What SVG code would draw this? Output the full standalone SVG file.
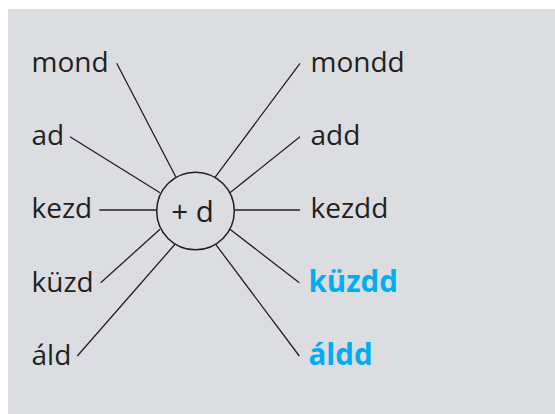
<svg xmlns="http://www.w3.org/2000/svg" width="555" height="414" viewBox="0 0 555 414">
<style>
.lbl{font-family:"Open Sans","Noto Sans","Liberation Sans",sans-serif;font-size:28px;fill:#231f20}
.hl{font-weight:bold;fill:#00aeef;font-size:29.5px}
.ln{stroke:#231f20;stroke-width:1.3;fill:none}
</style>
<rect x="8" y="9" width="547" height="405" fill="#dcdde0"/>
<g id="connectors">
<line class="ln" x1="116.7" y1="63.3" x2="176" y2="177.3"/>
<line class="ln" x1="70" y1="136.7" x2="160" y2="192.7"/>
<line class="ln" x1="99.3" y1="210" x2="156.7" y2="210"/>
<line class="ln" x1="100.7" y1="282.7" x2="160" y2="229.3"/>
<line class="ln" x1="77.3" y1="356" x2="175" y2="244.3"/>
<line class="ln" x1="300" y1="63.3" x2="215" y2="177.3"/>
<line class="ln" x1="300" y1="136.7" x2="230" y2="192.7"/>
<line class="ln" x1="234.3" y1="210" x2="300" y2="210"/>
<line class="ln" x1="299.3" y1="282.7" x2="230" y2="229.3"/>
<line class="ln" x1="299.3" y1="356" x2="215.7" y2="244.3"/>
</g>
<g id="center">
<circle cx="195.5" cy="211" r="38.8" fill="none" stroke="#231f20" stroke-width="1.5"/>
<text class="lbl" x="192.5" y="222" text-anchor="middle" style="font-size:29.5px">+ d</text>
</g>
<g id="mond"><text class="lbl" x="31.5" y="71.7">mond</text></g>
<g id="ad"><text class="lbl" x="31.5" y="145">ad</text></g>
<g id="kezd"><text class="lbl" x="31.5" y="218.3">kezd</text></g>
<g id="kuzd"><text class="lbl" x="31.5" y="291.8">küzd</text></g>
<g id="ald"><text class="lbl" x="31.5" y="365">áld</text></g>
<g id="mondd"><text class="lbl" x="310.5" y="71.7">mondd</text></g>
<g id="add"><text class="lbl" x="310.5" y="145">add</text></g>
<g id="kezdd"><text class="lbl" x="310.5" y="218.3">kezdd</text></g>
<g id="kuzdd"><text class="lbl hl" x="308.5" y="291.8">küzdd</text></g>
<g id="aldd"><text class="lbl hl" x="308.5" y="365">áldd</text></g>
</svg>
